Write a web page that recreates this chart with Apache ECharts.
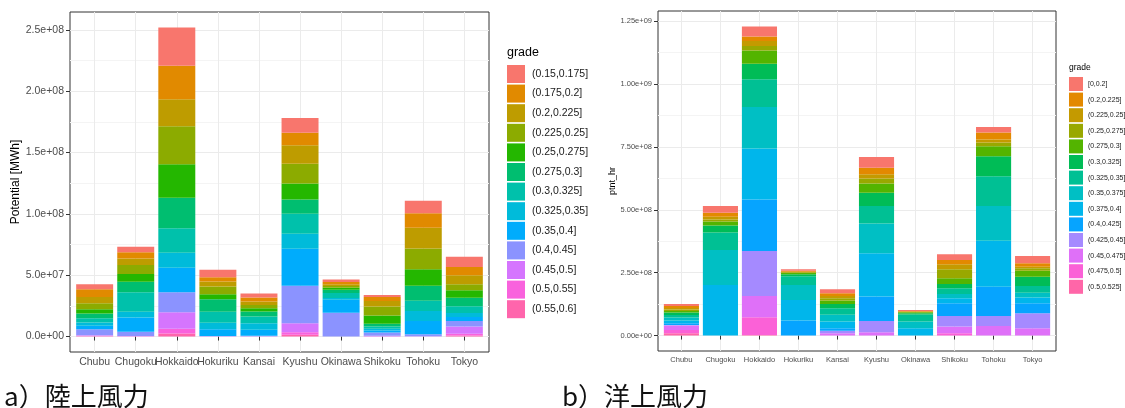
<!DOCTYPE html>
<html>
<head>
<meta charset="utf-8">
<script src="https://cdn.jsdelivr.net/npm/echarts@6/dist/echarts.min.js"></script>
<style>
  html, body { margin: 0; padding: 0; background: #ffffff; }
  #chart { width: 1125px; height: 408px; }
</style>
</head>
<body>
<div id="chart"></div>
<script>
// Regions shared by both panels
const regions = ['Chubu', 'Chugoku', 'Hokkaido', 'Hokuriku', 'Kansai', 'Kyushu', 'Okinawa', 'Shikoku', 'Tohoku', 'Tokyo'];

// a) onshore wind: capacity-factor grades (legend order, top of stack first)
const onshoreGrades = ['(0.15,0.175]', '(0.175,0.2]', '(0.2,0.225]', '(0.225,0.25]', '(0.25,0.275]', '(0.275,0.3]',
  '(0.3,0.325]', '(0.325,0.35]', '(0.35,0.4]', '(0.4,0.45]', '(0.45,0.5]', '(0.5,0.55]', '(0.55,0.6]'];
const onshoreColors = ['#F8766D', '#E18A00', '#BE9C00', '#8CAB00', '#24B700', '#00BE70', '#00C1AB',
  '#00BBDA', '#00ACFC', '#8B93FF', '#D575FE', '#F962DD', '#FF65AC'];

// Onshore potential per region, million MWh, one value per grade (same order as onshoreGrades)
const onChubu    = [4.1, 6.3, 5.2, 4.9, 3.5, 3.8, 3.5, 2.7, 2.7, 4.9, 0.5, 0.3, 0.3];
const onChugoku  = [4.6, 4.9, 5.4, 7.3, 6.3, 8.7, 15.8, 4.6, 11.7, 3.5, 0.2, 0.1, 0.1];
const onHokkaido = [31.3, 27.2, 22.0, 31.0, 27.2, 25.0, 19.9, 12.2, 19.9, 16.3, 13.6, 3.8, 2.5];
const onHokuriku = [6.0, 3.5, 4.1, 6.3, 4.1, 10.1, 9.0, 5.4, 5.4, 0.3, 0.1, 0.05, 0];
const onKansai   = [3.3, 3.3, 2.7, 2.7, 2.7, 4.1, 5.4, 5.4, 4.9, 0.4, 0.1, 0.1, 0];
const onKyushu   = [12.0, 10.3, 15.0, 16.0, 13.1, 11.7, 16.3, 12.2, 30.2, 30.5, 7.3, 2.0, 1.5];
const onOkinawa  = [1.9, 1.9, 1.4, 1.4, 1.6, 2.7, 4.1, 1.4, 10.6, 19.3, 0.1, 0, 0];
const onShikoku  = [1.6, 3.3, 4.4, 7.3, 6.8, 2.2, 1.9, 1.4, 1.6, 2.7, 0.5, 0.1, 0];
const onTohoku   = [10.3, 11.7, 16.9, 16.9, 13.6, 12.2, 8.2, 8.2, 10.9, 1.6, 0.2, 0, 0];
const onTokyo    = [8.4, 6.8, 7.3, 4.9, 6.0, 7.1, 5.4, 3.3, 3.3, 4.4, 6.0, 1.4, 0.8];

// b) offshore wind grades and colours
const offshoreGrades = ['[0,0.2]', '(0.2,0.225]', '(0.225,0.25]', '(0.25,0.275]', '(0.275,0.3]', '(0.3,0.325]',
  '(0.325,0.35]', '(0.35,0.375]', '(0.375,0.4]', '(0.4,0.425]', '(0.425,0.45]', '(0.45,0.475]', '(0.475,0.5]', '(0.5,0.525]'];
const offshoreColors = ['#F8766D', '#E38900', '#C49A00', '#99A800', '#53B400', '#00BC56', '#00C094',
  '#00BFC4', '#00B6EB', '#06A4FF', '#A58AFF', '#DF70F8', '#FB61D7', '#FF66A8'];

// Offshore potential per region, million MWh (ptnt_hr), one value per grade
const offChubu    = [7.9, 7.9, 6.6, 5.3, 6.6, 9.3, 10.6, 11.9, 10.6, 6.6, 2.6, 17.2, 13.2, 9.3];
const offChugoku  = [26.5, 15.9, 10.6, 7.9, 15.9, 27.8, 70.1, 138.9, 201.1, 0, 0, 0, 0, 0];
const offHokkaido = [39.7, 18.5, 19.8, 17.2, 52.9, 62.2, 109.8, 165.4, 202.4, 205.0, 178.6, 84.7, 70.8, 2.0];
const offHokuriku = [5.3, 4.0, 2.6, 2.6, 5.3, 7.9, 34.5, 59.5, 82.0, 59.5, 0, 0, 0, 0];
const offKansai   = [15.9, 10.6, 9.3, 9.3, 13.2, 17.2, 26.5, 26.5, 26.5, 10.6, 9.3, 9.3, 0, 0];
const offKyushu   = [43.7, 25.1, 17.2, 19.8, 37.0, 52.9, 68.8, 119.1, 172.0, 96.6, 45.0, 13.2, 0, 0];
const offOkinawa  = [4.0, 2.6, 1.3, 1.3, 4.0, 5.3, 27.8, 26.5, 29.1, 0, 0, 0, 0, 0];
const offShikoku  = [22.5, 17.2, 19.8, 35.7, 22.5, 17.2, 22.5, 17.2, 19.8, 50.3, 42.3, 26.5, 9.3, 0];
const offTohoku   = [22.5, 27.8, 11.9, 14.6, 39.7, 79.4, 119.1, 137.6, 182.5, 116.4, 39.7, 38.4, 0, 0];
const offTokyo    = [29.1, 13.2, 6.6, 9.3, 23.8, 37.0, 26.5, 19.8, 22.5, 39.7, 59.5, 29.1, 0, 0];

// Axis breaks
const onshoreTicks = [0, 5e7, 1e8, 1.5e8, 2e8, 2.5e8];
const onshoreMinor = [2.5e7, 7.5e7, 1.25e8, 1.75e8, 2.25e8];
const offshoreTicks = [0, 2.5e8, 5e8, 7.5e8, 1e9, 1.25e9];
const offshoreMinor = [1.25e8, 3.75e8, 6.25e8, 8.75e8, 1.125e9];

const UNIT = 1e6;
const onshoreByRegion = [onChubu, onChugoku, onHokkaido, onHokuriku, onKansai, onKyushu, onOkinawa, onShikoku, onTohoku, onTokyo];
const offshoreByRegion = [offChubu, offChugoku, offHokkaido, offHokuriku, offKansai, offKyushu, offOkinawa, offShikoku, offTohoku, offTokyo];

const SANS = '"Liberation Sans", Arial, sans-serif';
const CJK = '"Noto Sans CJK JP", sans-serif';

// Scientific labels like 2.5e+08
function sci(v, digits) {
  if (v === 0) return (0).toFixed(digits) + 'e+00';
  const e = Math.floor(Math.log10(Math.abs(v)) + 1e-9);
  const m = v / Math.pow(10, e);
  return m.toFixed(digits) + 'e' + (e < 0 ? '-' : '+') + String(Math.abs(e)).padStart(2, '0');
}

// y range padded by 5% of the tallest stack on both sides
function yRange(byRegion) {
  const totals = byRegion.map(r => r.reduce((a, b) => a + b, 0) * UNIT);
  const top = Math.max.apply(null, totals);
  return { min: -top * 0.05, max: top * 1.05 };
}

// Panel frames; bars sit inside with 0.6 of a category slot padding at both ends
const frames = [
  { left: 70, top: 12, width: 419, height: 340 },
  { left: 658, top: 11, width: 398, height: 340 }
];
function innerGrid(f) {
  const unit = f.width / 10.2;
  return { left: f.left + unit * 0.1, top: f.top, width: unit * 10, height: f.height };
}

const grids = [];
const xAxes = [];
const yAxes = [];
const series = [];

function addPanel(p, byRegion, grades, colors, ticks, minor, digits, fs, titleName, nameGap, stackId) {
  const f = frames[p];
  const r = yRange(byRegion);
  const outerIdx = grids.length;
  grids.push({ left: f.left, top: f.top, width: f.width, height: f.height, show: true,
    borderColor: '#333333', borderWidth: 1, backgroundColor: 'transparent' });
  const innerIdx = grids.length;
  grids.push(Object.assign({ show: false }, innerGrid(f)));

  // Frame x axis (not drawn)
  xAxes.push({ gridIndex: outerIdx, type: 'value', min: 0, max: 1, show: false });
  // Category axis for the bars
  const catIdx = xAxes.length;
  xAxes.push({
    gridIndex: innerIdx, type: 'category', data: regions,
    axisLine: { show: false },
    axisTick: { show: true, alignWithLabel: true, interval: 0, length: 4, lineStyle: { color: '#333333', width: 1 } },
    axisLabel: { interval: 0, margin: 5, color: '#4D4D4D', fontSize: fs, fontFamily: SANS },
    splitLine: { show: true, alignWithLabel: true, interval: 0, lineStyle: { color: '#EBEBEB', width: 1 } }
  });

  // Minor gridlines
  yAxes.push({
    gridIndex: outerIdx, type: 'value', min: r.min, max: r.max, position: 'left',
    axisLine: { show: false }, axisLabel: { show: false },
    axisTick: { show: false, customValues: minor },
    splitLine: { show: true, lineStyle: { color: '#F4F4F4', width: 1 } }
  });
  // Major gridlines, ticks and labels
  yAxes.push({
    gridIndex: outerIdx, type: 'value', min: r.min, max: r.max, position: 'left',
    name: titleName, nameLocation: 'middle', nameGap: nameGap, nameRotate: 90,
    nameTextStyle: { color: '#000000', fontSize: fs + 1.5, fontFamily: SANS },
    axisLine: { show: false },
    axisTick: { show: true, length: 4, customValues: ticks, lineStyle: { color: '#333333', width: 1 } },
    axisLabel: { customValues: ticks, margin: 6, color: '#4D4D4D', fontSize: fs, fontFamily: SANS,
      formatter: v => sci(v, digits) },
    splitLine: { show: true, lineStyle: { color: '#EBEBEB', width: 1 } }
  });
  // Value axis for the bars (hidden, same range)
  const valIdx = yAxes.length;
  yAxes.push({ gridIndex: innerIdx, type: 'value', min: r.min, max: r.max, show: false });

  // Stack from the highest grade at the bottom to the lowest grade on top
  for (let g = grades.length - 1; g >= 0; g--) {
    series.push({
      type: 'bar', name: grades[g], stack: stackId,
      xAxisIndex: catIdx, yAxisIndex: valIdx,
      barWidth: '90%', silent: true,
      itemStyle: { color: colors[g] },
      data: byRegion.map(row => row[g] * UNIT)
    });
  }
}

addPanel(0, onshoreByRegion, onshoreGrades, onshoreColors, onshoreTicks, onshoreMinor, 1, 10.5, 'Potential [MWh]', 44, 'onshore');
addPanel(1, offshoreByRegion, offshoreGrades, offshoreColors, offshoreTicks, offshoreMinor, 2, 7.5, 'ptnt_hr', 34, 'offshore');

const option = {
  animation: false,
  backgroundColor: '#ffffff',
  grid: grids,
  xAxis: xAxes,
  yAxis: yAxes,
  series: series,
  legend: [
    {
      orient: 'vertical', left: 507, top: 65, padding: 0,
      itemWidth: 18, itemHeight: 18, itemGap: 1.6, icon: 'rect', selectedMode: false,
      textStyle: { fontSize: 10.5, color: '#1A1A1A', fontFamily: SANS, padding: [0, 0, 0, 2] },
      data: onshoreGrades.map((g, i) => ({ name: g, itemStyle: { color: onshoreColors[i] } }))
    },
    {
      orient: 'vertical', left: 1069, top: 77, padding: 0,
      itemWidth: 14, itemHeight: 14, itemGap: 1.6, icon: 'rect', selectedMode: false,
      textStyle: { fontSize: 7, color: '#1A1A1A', fontFamily: SANS },
      data: offshoreGrades.map((g, i) => ({ name: g, itemStyle: { color: offshoreColors[i] } }))
    }
  ],
  graphic: [
    { type: 'text', x: 507, y: 53, style: { text: 'grade', fill: '#000000', font: '12.5px ' + SANS, verticalAlign: 'middle' } },
    { type: 'text', x: 1069, y: 68, style: { text: 'grade', fill: '#000000', font: '8.5px ' + SANS, verticalAlign: 'middle' } },
    { type: 'text', x: 4, y: 396, style: { text: 'a）陸上風力', fill: '#111111', font: '26px ' + CJK, verticalAlign: 'middle' } },
    { type: 'text', x: 562, y: 396, style: { text: 'b）洋上風力', fill: '#111111', font: '26px ' + CJK, verticalAlign: 'middle' } }
  ]
};

const chart = echarts.init(document.getElementById('chart'), null, { renderer: 'canvas' });
chart.setOption(option);
</script>
</body>
</html>
